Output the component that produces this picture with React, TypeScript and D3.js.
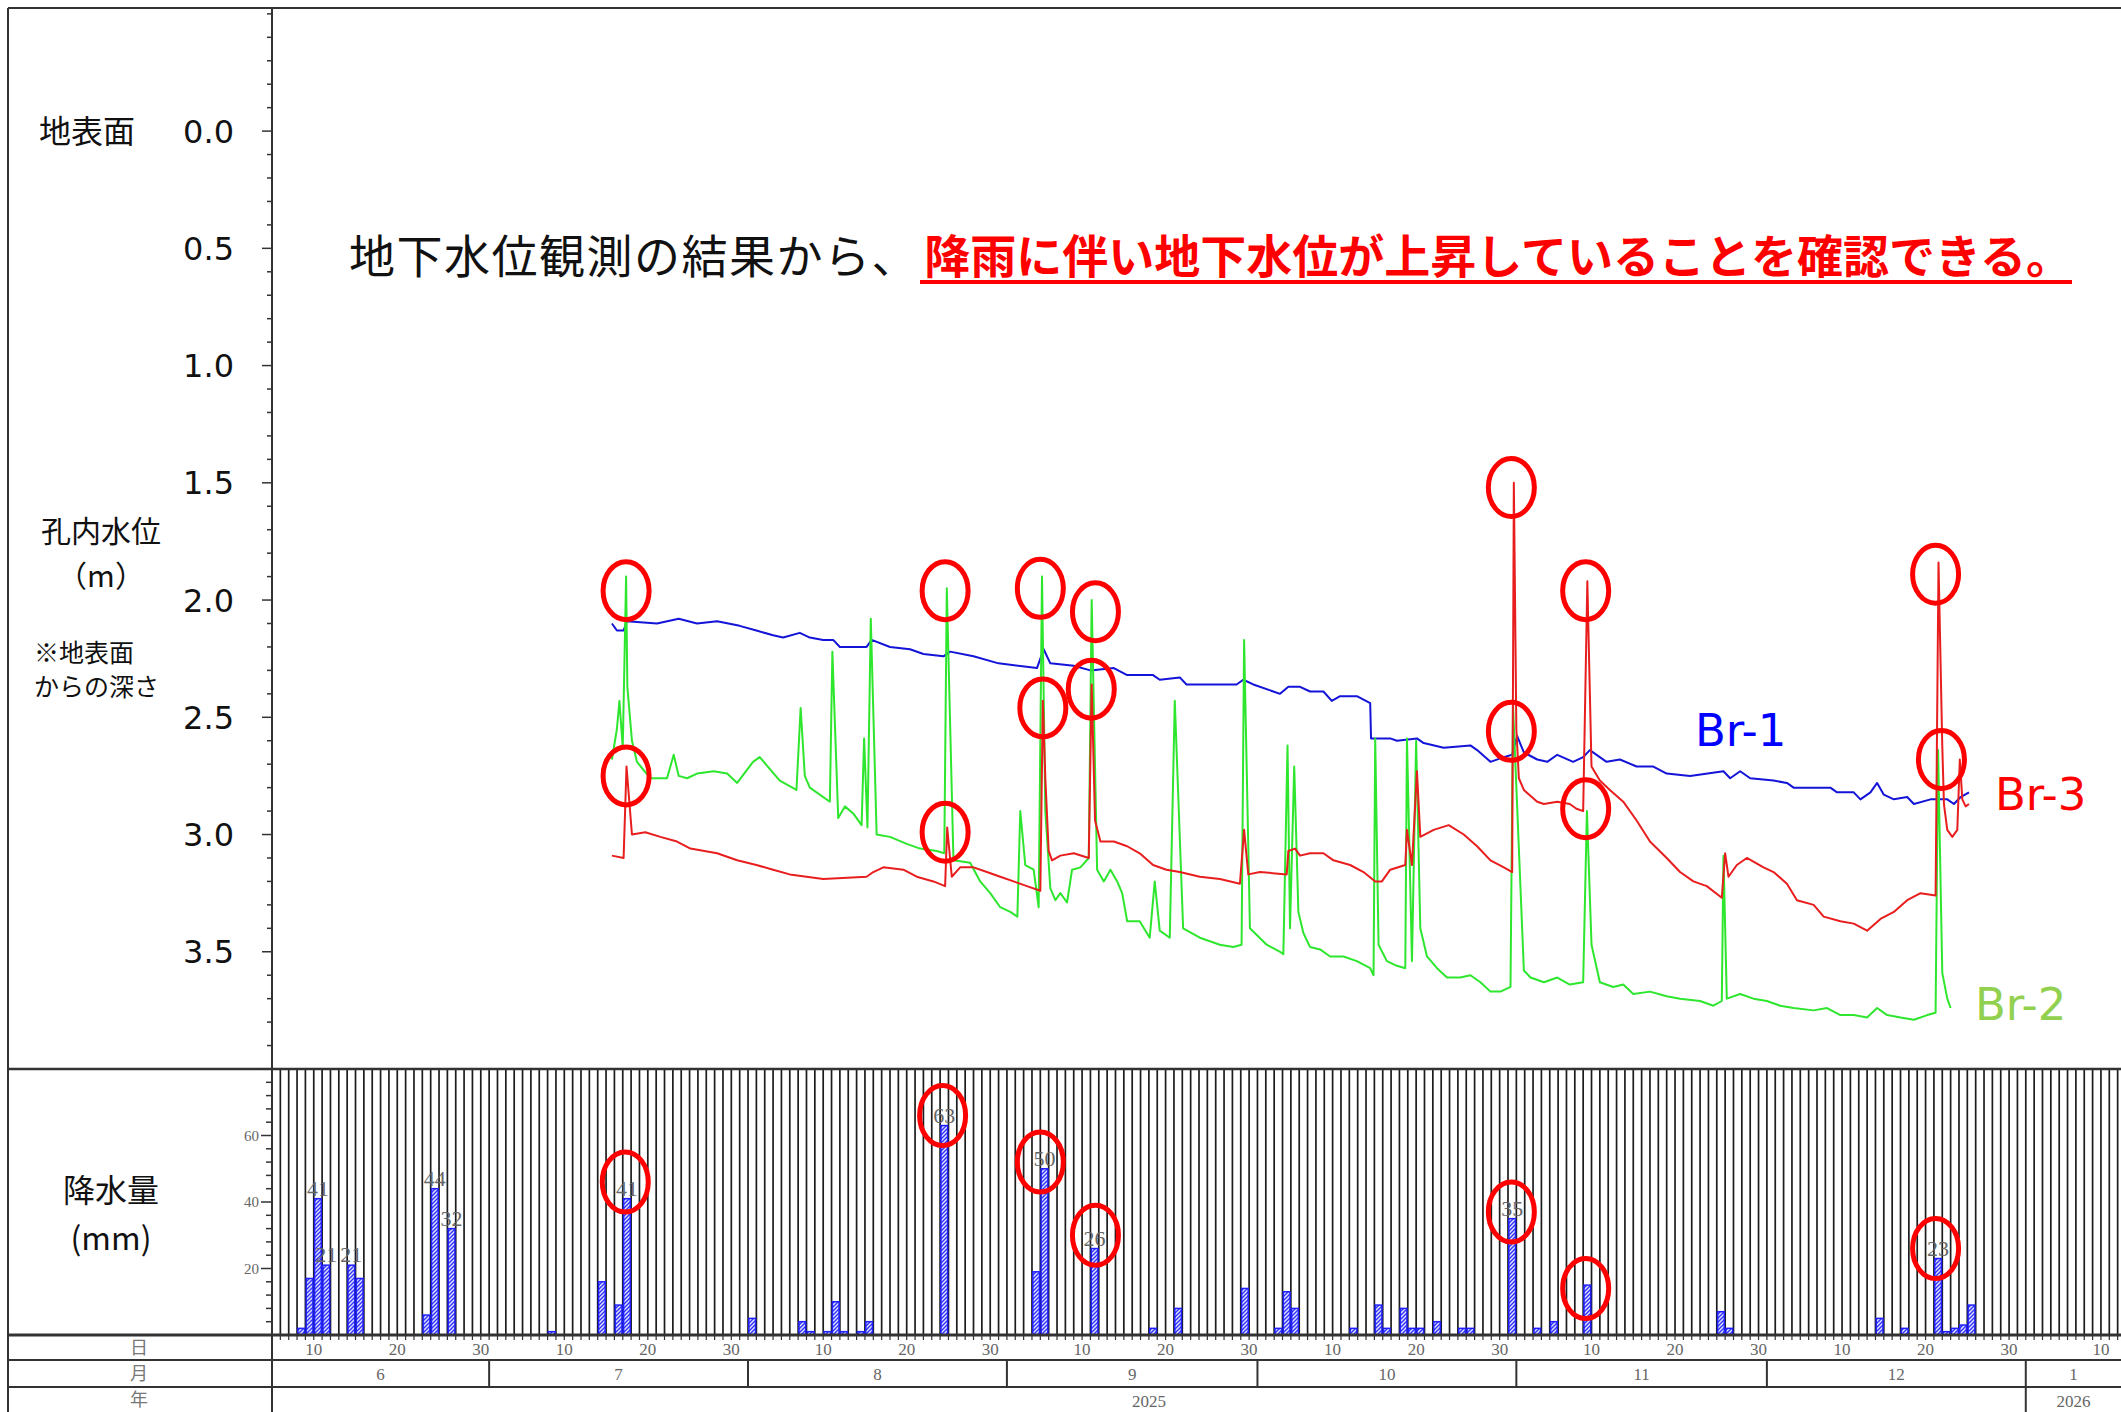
import * as d3 from "d3";
import { useEffect, useRef } from "react";

type Pt = [number, number, number]; // [month, day (fractional), value]

const W = 2121;
const H = 1412;

// water level, depth below ground surface (m)
const br1: Pt[] = [
  [7, 15.7, 2.1], [7, 16.3, 2.13], [7, 17.1, 2.13], [7, 17.5, 2.09], [7, 21.1, 2.1], [7, 23.7, 2.08], [7, 25.9, 2.1],
  [7, 28.3, 2.09], [7, 31.0, 2.11], [8, 2.0, 2.13], [8, 4.0, 2.15], [8, 5.2, 2.16], [8, 7.2, 2.14], [8, 8.4, 2.16],
  [8, 10.0, 2.17], [8, 11.2, 2.17], [8, 12.0, 2.2], [8, 15.2, 2.2], [8, 15.8, 2.17], [8, 18.0, 2.2], [8, 20.4, 2.21],
  [8, 22.0, 2.23], [8, 24.4, 2.24], [8, 25.2, 2.22], [8, 28.0, 2.24], [8, 31.0, 2.27], [9, 4.6, 2.29], [9, 5.4, 2.21],
  [9, 6.2, 2.27], [9, 9.0, 2.28], [9, 11.0, 2.3], [9, 13.8, 2.29], [9, 15.4, 2.32], [9, 18.5, 2.32], [9, 19.3, 2.34],
  [9, 21.7, 2.33], [9, 22.5, 2.36], [9, 28.5, 2.36], [9, 29.3, 2.34], [9, 30.5, 2.36], [10, 2.9, 2.39], [10, 3.7, 2.4],
  [10, 4.7, 2.37], [10, 6.1, 2.37], [10, 7.3, 2.39], [10, 8.9, 2.39], [10, 9.9, 2.43], [10, 10.9, 2.41], [10, 12.9, 2.41],
  [10, 14.5, 2.44], [10, 14.6, 2.59], [10, 16.9, 2.59], [10, 17.7, 2.6], [10, 20.1, 2.59], [10, 20.9, 2.61],
  [10, 23.3, 2.63], [10, 26.5, 2.62], [10, 27.3, 2.64], [10, 28.9, 2.69], [10, 30.5, 2.67], [10, 31.5, 2.66],
  [11, 1.1, 2.58], [11, 1.9, 2.65], [11, 3.5, 2.68], [11, 4.7, 2.69], [11, 5.9, 2.66], [11, 7.8, 2.69], [11, 9.0, 2.67],
  [11, 9.8, 2.64], [11, 11.8, 2.69], [11, 13.4, 2.68], [11, 15.4, 2.71], [11, 17.4, 2.71], [11, 19.0, 2.74],
  [11, 21.8, 2.75], [11, 25.8, 2.73], [11, 26.6, 2.76], [11, 27.8, 2.73], [11, 29.0, 2.76], [12, 1.8, 2.77],
  [12, 3.4, 2.78], [12, 4.2, 2.8], [12, 6.6, 2.8], [12, 8.6, 2.8], [12, 9.4, 2.82], [12, 11.4, 2.82], [12, 12.2, 2.85],
  [12, 13.4, 2.82], [12, 14.2, 2.78], [12, 15.0, 2.83], [12, 16.2, 2.85], [12, 17.8, 2.84], [12, 18.6, 2.87],
  [12, 20.6, 2.85], [12, 22.6, 2.85], [12, 23.4, 2.87], [12, 24.2, 2.84], [12, 25.2, 2.82],
];

const br2: Pt[] = [
  [7, 15.7, 2.68], [7, 16.3, 2.55], [7, 16.6, 2.43], [7, 17.0, 2.63], [7, 17.4, 1.9], [7, 17.55, 2.37], [7, 18.1, 2.6],
  [7, 18.7, 2.69], [7, 20.3, 2.76], [7, 22.3, 2.76], [7, 23.1, 2.66], [7, 23.7, 2.75], [7, 24.7, 2.76], [7, 25.9, 2.74],
  [7, 27.9, 2.73], [7, 29.5, 2.74], [7, 30.7, 2.78], [8, 1.6, 2.69], [8, 2.4, 2.67], [8, 4.8, 2.77], [8, 6.8, 2.81],
  [8, 7.3, 2.46], [8, 7.8, 2.75], [8, 8.4, 2.8], [8, 10.8, 2.86], [8, 11.1, 2.22], [8, 11.8, 2.93], [8, 12.6, 2.88],
  [8, 13.6, 2.91], [8, 14.6, 2.96], [8, 14.9, 2.59], [8, 15.3, 2.97], [8, 15.7, 2.08], [8, 16.4, 3.0], [8, 18.0, 3.01],
  [8, 20.0, 3.04], [8, 21.6, 3.06], [8, 23.6, 3.07], [8, 24.5, 3.08], [8, 24.8, 1.95], [8, 25.6, 3.11], [8, 27.6, 3.12],
  [8, 28.8, 3.2], [8, 30.0, 3.25], [8, 31.2, 3.31], [9, 1.4, 3.33], [9, 2.25, 3.35], [9, 2.6, 2.9], [9, 3.2, 3.13],
  [9, 4.2, 3.15], [9, 4.8, 3.31], [9, 5.2, 1.9], [9, 5.6, 2.9], [9, 6.2, 3.23], [9, 6.8, 3.28], [9, 7.4, 3.25],
  [9, 8.2, 3.29], [9, 8.8, 3.15], [9, 9.8, 3.14], [9, 10.8, 3.1], [9, 11.15, 2.0], [9, 11.8, 3.15], [9, 12.6, 3.2],
  [9, 13.4, 3.15], [9, 14.2, 3.2], [9, 14.8, 3.25], [9, 15.4, 3.37], [9, 16.9, 3.37], [9, 18.1, 3.44], [9, 18.7, 3.2],
  [9, 19.3, 3.41], [9, 20.5, 3.44], [9, 21.1, 2.43], [9, 22.1, 3.4], [9, 24.1, 3.44], [9, 26.5, 3.47], [9, 28.1, 3.48],
  [9, 29.1, 3.47], [9, 29.4, 2.17], [9, 30.1, 3.4], [10, 2.1, 3.47], [10, 3.7, 3.5], [10, 4.1, 3.51], [10, 4.6, 2.62],
  [10, 4.9, 3.4], [10, 5.4, 2.71], [10, 5.9, 3.33], [10, 6.5, 3.42], [10, 7.3, 3.48], [10, 8.5, 3.49], [10, 9.7, 3.52],
  [10, 11.3, 3.52], [10, 12.9, 3.54], [10, 14.5, 3.57], [10, 14.9, 3.6], [10, 15.1, 2.59], [10, 15.5, 3.47],
  [10, 16.5, 3.54], [10, 17.7, 3.56], [10, 18.7, 3.57], [10, 18.9, 2.59], [10, 19.5, 3.54], [10, 20.0, 2.6],
  [10, 20.5, 3.4], [10, 21.3, 3.52], [10, 22.5, 3.57], [10, 23.7, 3.61], [10, 25.3, 3.61], [10, 26.5, 3.6],
  [10, 27.7, 3.63], [10, 28.9, 3.67], [10, 30.1, 3.67], [10, 31.3, 3.65], [10, 31.6, 2.45], [11, 1.9, 3.58],
  [11, 2.7, 3.61], [11, 4.3, 3.63], [11, 5.9, 3.61], [11, 7.4, 3.64], [11, 9.0, 3.63], [11, 9.45, 2.9], [11, 10.0, 3.47],
  [11, 11.0, 3.63], [11, 12.6, 3.65], [11, 13.8, 3.64], [11, 15.0, 3.68], [11, 17.0, 3.67], [11, 19.0, 3.69],
  [11, 20.6, 3.7], [11, 23.0, 3.71], [11, 24.6, 3.73], [11, 25.6, 3.71], [11, 25.8, 3.09], [11, 26.2, 3.7],
  [11, 27.8, 3.68], [11, 29.4, 3.7], [12, 1.0, 3.71], [12, 2.6, 3.73], [12, 4.2, 3.74], [12, 6.6, 3.75], [12, 8.2, 3.74],
  [12, 9.8, 3.77], [12, 11.4, 3.77], [12, 13.0, 3.78], [12, 14.2, 3.74], [12, 15.4, 3.77], [12, 17.0, 3.78],
  [12, 18.6, 3.79], [12, 20.2, 3.77], [12, 21.2, 3.76], [12, 21.5, 2.64], [12, 22.0, 3.59], [12, 22.6, 3.7],
  [12, 23.0, 3.74],
];

const br3: Pt[] = [
  [7, 15.7, 3.09], [7, 17.1, 3.1], [7, 17.45, 2.71], [7, 18.1, 3.0], [7, 19.7, 2.99], [7, 21.5, 3.01], [7, 23.5, 3.03],
  [7, 25.1, 3.06], [7, 28.3, 3.08], [7, 30.7, 3.11], [8, 2.0, 3.13], [8, 4.0, 3.15], [8, 6.0, 3.17], [8, 8.0, 3.18],
  [8, 10.0, 3.19], [8, 15.2, 3.18], [8, 16.0, 3.16], [8, 17.2, 3.14], [8, 19.6, 3.15], [8, 21.2, 3.18], [8, 23.2, 3.2],
  [8, 24.6, 3.22], [8, 24.85, 2.97], [8, 25.4, 3.18], [8, 26.4, 3.14], [8, 28.0, 3.14], [8, 29.6, 3.16], [8, 31.2, 3.18],
  [9, 1.8, 3.2], [9, 3.4, 3.22], [9, 5.0, 3.24], [9, 5.3, 2.43], [9, 5.6, 2.76], [9, 6.0, 3.07], [9, 6.4, 3.11],
  [9, 7.4, 3.09], [9, 9.0, 3.08], [9, 10.8, 3.1], [9, 11.15, 2.36], [9, 11.55, 2.94], [9, 12.2, 3.03], [9, 13.8, 3.03],
  [9, 15.4, 3.05], [9, 16.9, 3.08], [9, 18.5, 3.13], [9, 20.1, 3.15], [9, 21.7, 3.16], [9, 24.1, 3.18], [9, 26.5, 3.19],
  [9, 28.9, 3.21], [9, 29.4, 2.98], [9, 29.9, 3.17], [10, 1.3, 3.16], [10, 4.5, 3.17], [10, 4.7, 3.07], [10, 5.5, 3.06],
  [10, 6.1, 3.09], [10, 7.3, 3.08], [10, 8.9, 3.08], [10, 10.1, 3.11], [10, 12.1, 3.13], [10, 13.7, 3.16],
  [10, 15.1, 3.2], [10, 15.9, 3.2], [10, 16.9, 3.15], [10, 18.7, 3.13], [10, 18.9, 2.98], [10, 19.5, 3.13],
  [10, 20.1, 2.73], [10, 20.5, 3.01], [10, 22.1, 2.98], [10, 23.9, 2.96], [10, 25.7, 3.0], [10, 27.3, 3.05],
  [10, 28.9, 3.11], [10, 30.5, 3.14], [10, 31.5, 3.16], [10, 31.7, 1.5], [11, 1.0, 2.55], [11, 1.3, 2.76],
  [11, 1.9, 2.81], [11, 3.5, 2.86], [11, 4.3, 2.87], [11, 5.9, 2.86], [11, 7.4, 2.87], [11, 8.2, 2.89], [11, 9.0, 2.9],
  [11, 9.5, 1.92], [11, 10.0, 2.71], [11, 11.0, 2.77], [11, 12.2, 2.81], [11, 13.8, 2.86], [11, 15.4, 2.94],
  [11, 17.0, 3.03], [11, 19.0, 3.1], [11, 20.6, 3.16], [11, 22.2, 3.2], [11, 23.8, 3.22], [11, 25.6, 3.27],
  [11, 26.0, 3.08], [11, 26.4, 3.18], [11, 27.4, 3.13], [11, 28.6, 3.1], [11, 30.6, 3.14], [12, 1.8, 3.16],
  [12, 3.4, 3.21], [12, 4.6, 3.28], [12, 6.6, 3.3], [12, 7.8, 3.35], [12, 9.8, 3.37], [12, 11.4, 3.38], [12, 13.0, 3.41],
  [12, 14.6, 3.36], [12, 16.2, 3.33], [12, 17.8, 3.28], [12, 19.4, 3.25], [12, 21.2, 3.26], [12, 21.55, 1.84],
  [12, 22.0, 2.62], [12, 22.2, 2.87], [12, 22.6, 2.98], [12, 23.2, 3.01], [12, 23.8, 2.98], [12, 24.1, 2.68],
  [12, 24.4, 2.85], [12, 24.8, 2.88], [12, 25.2, 2.87],
];

// daily precipitation (mm): [month, day, mm]
const rain: Pt[] = [
  [6, 8, 2], [6, 9, 17], [6, 10, 41], [6, 11, 21], [6, 14, 21], [6, 15, 17], [6, 23, 6], [6, 24, 44], [6, 26, 32],
  [7, 8, 1], [7, 14, 16], [7, 16, 9], [7, 17, 41], [8, 1, 5], [8, 7, 4], [8, 8, 1], [8, 10, 1], [8, 11, 10], [8, 12, 1],
  [8, 14, 1], [8, 15, 4], [8, 24, 63], [9, 4, 19], [9, 5, 50], [9, 11, 26], [9, 18, 2], [9, 21, 8], [9, 29, 14],
  [10, 3, 2], [10, 4, 13], [10, 5, 8], [10, 12, 2], [10, 15, 9], [10, 16, 2], [10, 18, 8], [10, 19, 2], [10, 20, 2],
  [10, 22, 4], [10, 25, 2], [10, 26, 2], [10, 31, 35], [11, 3, 2], [11, 5, 4], [11, 9, 15], [11, 25, 7], [11, 26, 2],
  [12, 14, 5], [12, 17, 2], [12, 21, 23], [12, 22, 1], [12, 23, 2], [12, 24, 3], [12, 25, 9],
];

// red annotation rings
const levelMarks: Pt[] = [
  [7, 17.4, 1.96], [7, 17.4, 2.75], [8, 24.6, 1.96], [8, 24.6, 2.99], [9, 5.0, 1.95], [9, 5.3, 2.46],
  [9, 11.6, 2.05], [9, 11.1, 2.38], [10, 31.4, 1.52], [10, 31.4, 2.56], [11, 9.3, 1.96], [11, 9.3, 2.89],
  [12, 21.2, 1.89], [12, 21.9, 2.68],
];
const rainMarks: Pt[] = [
  [7, 17.3, 46], [8, 24.3, 66], [9, 5.0, 52], [9, 11.6, 30], [10, 31.4, 37], [11, 9.3, 14], [12, 21.2, 26],
];

const depthTicks = [0, 0.5, 1.0, 1.5, 2.0, 2.5, 3.0, 3.5];
const rainTicks = [20, 40, 60];
const monthLabels = ["6", "7", "8", "9", "10", "11", "12", "1"];
const yearLabels = ["2025", "2026"];
const dayLabels = [10, 20, 30];

const JP = "'Noto Sans CJK JP', sans-serif";
const NUM = "'DejaVu Sans', Verdana, sans-serif";
const SERIF = "'Liberation Serif', serif";

const toDate = (m: number, d: number) =>
  new Date(Date.UTC(m >= 6 ? 2025 : 2026, m - 1, 1) + (d - 1) * 864e5);

function GroundwaterChart() {
  const svgRef = useRef<SVGSVGElement | null>(null);

  useEffect(() => {
    if (!svgRef.current) return;
    const svg = d3.select(svgRef.current);
    svg.selectAll("*").remove();

    const left = 272;
    const plotTop = 8;
    const plotBottom = 1069;
    const rainBase = 1335;
    const dayRowBottom = 1360;
    const monthRowBottom = 1387;

    const t0 = toDate(6, 5);
    const t1 = toDate(1, 13);
    const x = d3.scaleUtc().domain([t0, t1]).range([left, 2126]);
    const y = d3.scaleLinear().domain([-0.525, 4.0]).range([plotTop, plotBottom]);
    const yr = d3.scaleLinear().domain([0, 80]).range([rainBase, plotBottom]);
    const tEnd = x.invert(W);

    svg.append("rect").attr("width", W).attr("height", H).attr("fill", "#fff");

    const defs = svg.append("defs");
    const pat = defs.append("pattern").attr("id", "hatch")
      .attr("patternUnits", "userSpaceOnUse").attr("width", 4).attr("height", 4);
    pat.append("rect").attr("width", 4).attr("height", 4).attr("fill", "#dcdfff");
    pat.append("path").attr("d", "M-1,1 l2,-2 M0,4 l4,-4 M3,5 l2,-2")
      .attr("stroke", "#2f2fff").attr("stroke-width", 1.3);

    // daily grid in the rain panel
    const days = d3.utcDay.range(t0, t1);
    svg.append("g").selectAll("line").data(days).join("line")
      .attr("x1", d => x(d)).attr("x2", d => x(d))
      .attr("y1", plotBottom).attr("y2", rainBase)
      .attr("stroke", "#1c1c1c").attr("stroke-width", 1.7);

    // rain bars
    svg.append("g").selectAll("rect").data(rain).join("rect")
      .attr("x", d => x(toDate(d[0], d[1])) + 0.8)
      .attr("width", d => x(toDate(d[0], d[1] + 1)) - x(toDate(d[0], d[1])) - 1.6)
      .attr("y", d => yr(d[2]))
      .attr("height", d => rainBase - yr(d[2]))
      .attr("fill", "url(#hatch)")
      .attr("stroke", "#1f1fff").attr("stroke-width", 1.5);

    svg.append("g").selectAll("text").data(rain.filter(d => d[2] >= 20)).join("text")
      .attr("x", d => x(toDate(d[0], d[1] + 0.5)))
      .attr("y", d => yr(d[2]) - 3)
      .attr("text-anchor", "middle")
      .attr("font-family", SERIF).attr("font-size", 22).attr("fill", "#666")
      .text(d => d[2]);

    // frame and table lines
    const frame = svg.append("g").attr("stroke", "#333").attr("fill", "none");
    frame.append("line").attr("x1", 8).attr("x2", W).attr("y1", 8).attr("y2", 8).attr("stroke-width", 2);
    frame.append("line").attr("x1", 8).attr("x2", 8).attr("y1", 8).attr("y2", H).attr("stroke-width", 2);
    frame.append("line").attr("x1", left).attr("x2", left).attr("y1", 8).attr("y2", H).attr("stroke-width", 2);
    [
      [plotBottom, 2.5], [rainBase, 3], [dayRowBottom, 2], [monthRowBottom, 2],
    ].forEach(([yy, w]) => {
      frame.append("line").attr("x1", 8).attr("x2", W).attr("y1", yy).attr("y2", yy).attr("stroke-width", w);
    });

    // depth axis ticks
    const minor = d3.range(-5, 41).map(i => i / 10);
    svg.append("g").selectAll("line").data(minor).join("line")
      .attr("x1", d => (Math.abs(d * 2 - Math.round(d * 2)) < 1e-6 && d >= 0 ? left - 10 : left - 5))
      .attr("x2", left)
      .attr("y1", d => y(d)).attr("y2", d => y(d))
      .attr("stroke", "#333").attr("stroke-width", 1.5);
    svg.append("g").selectAll("text").data(depthTicks).join("text")
      .attr("x", 234).attr("y", d => y(d))
      .attr("dy", "0.36em").attr("text-anchor", "end")
      .attr("font-family", NUM).attr("font-size", 32).attr("fill", "#111")
      .text(d => d.toFixed(1));

    // rain axis ticks
    const rminor = d3.range(4, 80, 4);
    svg.append("g").selectAll("line").data(rminor).join("line")
      .attr("x1", d => (rainTicks.includes(d) ? left - 11 : left - 6)).attr("x2", left)
      .attr("y1", d => yr(d)).attr("y2", d => yr(d))
      .attr("stroke", "#333").attr("stroke-width", 1.5);
    svg.append("g").selectAll("text").data(rainTicks).join("text")
      .attr("x", 259).attr("y", d => yr(d)).attr("dy", "0.35em").attr("text-anchor", "end")
      .attr("font-family", SERIF).attr("font-size", 15).attr("fill", "#666")
      .text(d => d);

    // day row
    svg.append("g").selectAll("line").data(days).join("line")
      .attr("x1", d => x(d)).attr("x2", d => x(d))
      .attr("y1", rainBase).attr("y2", rainBase + 5)
      .attr("stroke", "#333").attr("stroke-width", 1.2);
    svg.append("g").selectAll("text")
      .data(days.filter(d => dayLabels.includes(d.getUTCDate())))
      .join("text")
      .attr("x", d => x(d)).attr("y", 1349).attr("dy", "0.35em").attr("text-anchor", "middle")
      .attr("font-family", SERIF).attr("font-size", 17).attr("fill", "#666")
      .text(d => d.getUTCDate());

    // month row
    const mb = [t0, ...d3.utcMonth.range(d3.utcDay.offset(t0, 1), tEnd), tEnd];
    svg.append("g").selectAll("line").data(mb.slice(1, -1)).join("line")
      .attr("x1", d => x(d)).attr("x2", d => x(d))
      .attr("y1", dayRowBottom).attr("y2", monthRowBottom)
      .attr("stroke", "#333").attr("stroke-width", 2);
    svg.append("g").selectAll("text").data(monthLabels).join("text")
      .attr("x", (_, i) => (x(mb[i]) + x(mb[i + 1])) / 2).attr("y", 1374)
      .attr("dy", "0.35em").attr("text-anchor", "middle")
      .attr("font-family", SERIF).attr("font-size", 17).attr("fill", "#666")
      .text(d => d);

    // year row
    const jan1 = toDate(1, 1);
    const yb = [t0, jan1, tEnd];
    svg.append("line").attr("x1", x(jan1)).attr("x2", x(jan1)).attr("y1", monthRowBottom).attr("y2", H)
      .attr("stroke", "#333").attr("stroke-width", 2);
    svg.append("g").selectAll("text").data(yearLabels).join("text")
      .attr("x", (_, i) => (x(yb[i]) + x(yb[i + 1])) / 2).attr("y", 1401)
      .attr("dy", "0.35em").attr("text-anchor", "middle")
      .attr("font-family", SERIF).attr("font-size", 17).attr("fill", "#666")
      .text(d => d);

    const rowTitles: [string, number][] = [["日", 1348], ["月", 1374], ["年", 1400]];
    rowTitles.forEach(([t, yy]) => {
      svg.append("text").attr("x", 139).attr("y", yy).attr("dy", "0.35em").attr("text-anchor", "middle")
        .attr("font-family", JP).attr("font-size", 18).attr("fill", "#777").text(t);
    });

    // water level lines
    const line = d3.line<Pt>()
      .x(d => x(toDate(d[0], d[1])))
      .y(d => y(d[2]));
    const series: [Pt[], string][] = [[br1, "#1414d8"], [br2, "#2ee62e"], [br3, "#e81e1e"]];
    series.forEach(([data, color]) => {
      svg.append("path").datum(data).attr("d", line)
        .attr("fill", "none").attr("stroke", color).attr("stroke-width", 2)
        .attr("stroke-linejoin", "round");
    });

    // annotation rings
    svg.append("g").selectAll("ellipse").data(levelMarks).join("ellipse")
      .attr("cx", d => x(toDate(d[0], d[1]))).attr("cy", d => y(d[2]))
      .attr("rx", 23).attr("ry", 29)
      .attr("fill", "none").attr("stroke", "#ff0000").attr("stroke-width", 5);
    svg.append("g").selectAll("ellipse").data(rainMarks).join("ellipse")
      .attr("cx", d => x(toDate(d[0], d[1]))).attr("cy", d => yr(d[2]))
      .attr("rx", 23).attr("ry", 30)
      .attr("fill", "none").attr("stroke", "#ff0000").attr("stroke-width", 5);

    // left labels
    const txt = (s: string, xx: number, yy: number, size: number, anchor = "middle") =>
      svg.append("text").attr("x", xx).attr("y", yy).attr("dy", "0.36em").attr("text-anchor", anchor)
        .attr("font-family", JP).attr("font-size", size).attr("fill", "#111").text(s);
    txt("地表面", 87, 131, 32);
    txt("孔内水位", 101, 531, 30);
    txt("（m）", 101, 576, 30);
    txt("※地表面", 34, 653, 25, "start");
    txt("からの深さ", 34, 687, 25, "start");
    txt("降水量", 111, 1190, 32);
    txt("(mm)", 111, 1238, 32);

    // headline
    svg.append("text").attr("x", 349).attr("y", 273)
      .attr("font-family", JP).attr("font-size", 46).attr("letter-spacing", 1.5).attr("fill", "#111")
      .text("地下水位観測の結果から、");
    svg.append("text").attr("x", 2072).attr("y", 273).attr("text-anchor", "end")
      .attr("font-family", JP).attr("font-size", 46).attr("font-weight", 700).attr("fill", "#ff0000")
      .text("降雨に伴い地下水位が上昇していることを確認できる。");
    svg.append("line").attr("x1", 920).attr("x2", 2072).attr("y1", 282).attr("y2", 282)
      .attr("stroke", "#ff0000").attr("stroke-width", 4);

    // series names
    const names: [string, number, number, string][] = [
      ["Br-1", 1695, 730, "#0000ff"],
      ["Br-3", 1995, 794, "#ff0000"],
      ["Br-2", 1975, 1004, "#92d050"],
    ];
    names.forEach(([s, xx, yy, c]) => {
      svg.append("text").attr("x", xx).attr("y", yy).attr("dy", "0.36em")
        .attr("font-family", NUM).attr("font-size", 45).attr("fill", c).text(s);
    });
  }, []);

  return (
    <svg
      ref={svgRef}
      width={W}
      height={H}
      style={{ position: "absolute", left: 0, top: 0, display: "block" }}
    />
  );
}

export default function App() {
  return <GroundwaterChart />;
}
